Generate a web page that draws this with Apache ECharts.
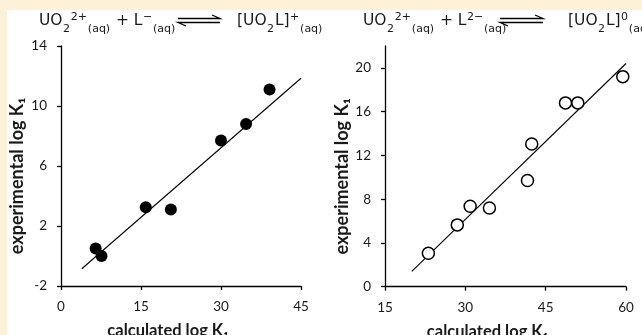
<!DOCTYPE html>
<html>
<head>
<meta charset="utf-8">
<script src="https://cdn.jsdelivr.net/npm/echarts@6/dist/echarts.min.js"></script>
<style>
html,body{margin:0;padding:0;background:#fff;}
#c{width:642px;height:335px;}
</style>
</head>
<body>
<div id="c"></div>
<script>
// ---- data ----
const leftPoints = [
  [6.5, 0.5], [7.6, 0.0], [15.9, 3.25], [20.6, 3.1],
  [30.0, 7.7], [34.7, 8.8], [39.1, 11.1]
];
const leftFit = [[3.9, -0.85], [45, 11.85]];
const rightPoints = [
  [23.1, 3.05], [28.5, 5.65], [30.9, 7.35], [34.5, 7.2],
  [41.6, 9.7], [42.4, 13.05], [48.7, 16.8], [51.0, 16.8], [59.4, 19.2]
];
const rightFit = [[20, 1.4], [60, 20.4]];
const leftXTicks = [0, 15, 30, 45];
const leftYTicks = [-2, 2, 6, 10, 14];
const rightXTicks = [15, 30, 45, 60];
const rightYTicks = [0, 4, 8, 12, 16, 20];
const xTitle = 'calculated log K\u2081';
const yTitle = 'experimental log K\u2081';
// equation pieces: [text, kind]  m = normal, p = superscript, s = subscript
const leftEqA = [['UO', 'm'], ['2', 's'], ['2+', 'p'], ['(aq)', 's'], [' + L', 'm'], ['\u2212', 'p'], ['(aq)', 's']];
const leftEqB = [['[UO', 'm'], ['2', 's'], ['L]', 'm'], ['+', 'p'], ['(aq)', 's']];
const rightEqA = [['UO', 'm'], ['2', 's'], ['2+', 'p'], ['(aq)', 's'], [' + L', 'm'], ['2\u2212', 'p'], ['(aq)', 's']];
const rightEqB = [['[UO', 'm'], ['2', 's'], ['L]', 'm'], ['0', 'p'], ['(aq)', 's']];

const FONT = 'Lato';
const EQFONT = 'DejaVu Sans';
const TXT = '#1a1a1a';
const chart = echarts.init(document.getElementById('c'), null, {renderer: 'canvas'});

function xAx(gi, ticks, shift) {
  return {
    type: 'value', gridIndex: gi, min: ticks[0], max: ticks[ticks.length - 1], interval: 15,
    name: xTitle, nameLocation: 'middle', nameGap: 36,
    nameTextStyle: {fontFamily: FONT, fontWeight: 'bold', fontSize: 16.5, color: TXT, padding: [0, shift, 0, 0]},
    axisLine: {onZero: false, lineStyle: {color: '#000', width: 1.3}},
    axisTick: {show: true, length: 4, lineStyle: {color: '#000', width: 1.3}},
    axisLabel: {fontFamily: FONT, fontSize: 13.5, color: TXT, margin: 14},
    splitLine: {show: false}
  };
}
function yAx(gi, ticks, max, gap) {
  return {
    type: 'value', gridIndex: gi, min: ticks[0], max: max, interval: 4,
    name: yTitle, nameLocation: 'middle', nameGap: gap,
    nameTextStyle: {fontFamily: FONT, fontWeight: 'bold', fontSize: 18, color: TXT, padding: [0, 20, 0, 0]},
    axisLine: {onZero: false, lineStyle: {color: '#000', width: 1.3}},
    axisTick: {show: true, length: 4, customValues: ticks, lineStyle: {color: '#000', width: 1.3}},
    axisLabel: {fontFamily: FONT, fontSize: 13.5, color: TXT, margin: 14, customValues: ticks},
    splitLine: {show: false}
  };
}

// equation text layout (measured pieces)
const STY = {
  m: {size: 15.5, cy: 21},
  p: {size: 11, cy: 16.8},
  s: {size: 11, cy: 29.5}
};
const mctx = document.createElement('canvas').getContext('2d');
function eq(x0, parts) {
  const out = [];
  let x = x0;
  parts.forEach(([t, k]) => {
    const st = STY[k];
    const font = st.size + 'px "' + EQFONT + '"';
    mctx.font = font;
    const w = mctx.measureText(t).width;
    out.push({type: 'text', x: x, y: st.cy, z: 5,
      style: {text: t, font: font, fill: TXT, align: 'left', verticalAlign: 'middle'}});
    x += w + (k === 'm' ? 0.5 : 0.8);
  });
  return out;
}
function arrow(x1, x2, y) {
  return [
    {type: 'polyline', shape: {points: [[x1, y], [x2, y], [x2 - 8, y - 3.5]]}, style: {stroke: '#000', lineWidth: 1.3, fill: null}},
    {type: 'polyline', shape: {points: [[x1 + 8, y + 7.5], [x1, y + 4], [x2, y + 4]]}, style: {stroke: '#000', lineWidth: 1.3, fill: null}}
  ];
}

const option = {
  backgroundColor: '#fff',
  animation: false,
  grid: [
    {left: 61, top: 46, width: 240, height: 240, outerBoundsMode: 'none', containLabel: false},
    {left: 385, top: 46, width: 241, height: 240.7, outerBoundsMode: 'none', containLabel: false}
  ],
  xAxis: [xAx(0, leftXTicks, 26), xAx(1, rightXTicks, 36)],
  yAxis: [yAx(0, leftYTicks, 14, 35), yAx(1, rightYTicks, 22, 32)],
  series: [
    {type: 'line', xAxisIndex: 0, yAxisIndex: 0, data: leftFit, symbol: 'none',
     lineStyle: {color: '#000', width: 1.1}, z: 2},
    {type: 'scatter', xAxisIndex: 0, yAxisIndex: 0, data: leftPoints, symbolSize: 12,
     itemStyle: {color: '#000', opacity: 1}, z: 3},
    {type: 'line', xAxisIndex: 1, yAxisIndex: 1, data: rightFit, symbol: 'none',
     lineStyle: {color: '#000', width: 1.1}, z: 2},
    {type: 'scatter', xAxisIndex: 1, yAxisIndex: 1, data: rightPoints, symbolSize: 12,
     itemStyle: {color: '#fff', borderColor: '#000', borderWidth: 1.5, opacity: 1}, z: 3}
  ],
  graphic: [
    {type: 'rect', x: 0, y: 0, shape: {width: 642, height: 10}, style: {fill: '#fdf2d9'}, z: -10},
    {type: 'rect', x: 0, y: 0, shape: {width: 7, height: 335}, style: {fill: '#fdf2d9'}, z: -10},
    ...eq(39, leftEqA),
    ...arrow(178, 220, 18.5),
    ...eq(237, leftEqB),
    ...eq(363, rightEqA),
    ...arrow(500, 543, 18.5),
    ...eq(568, rightEqB)
  ]
};
chart.setOption(option);
</script>
</body>
</html>
